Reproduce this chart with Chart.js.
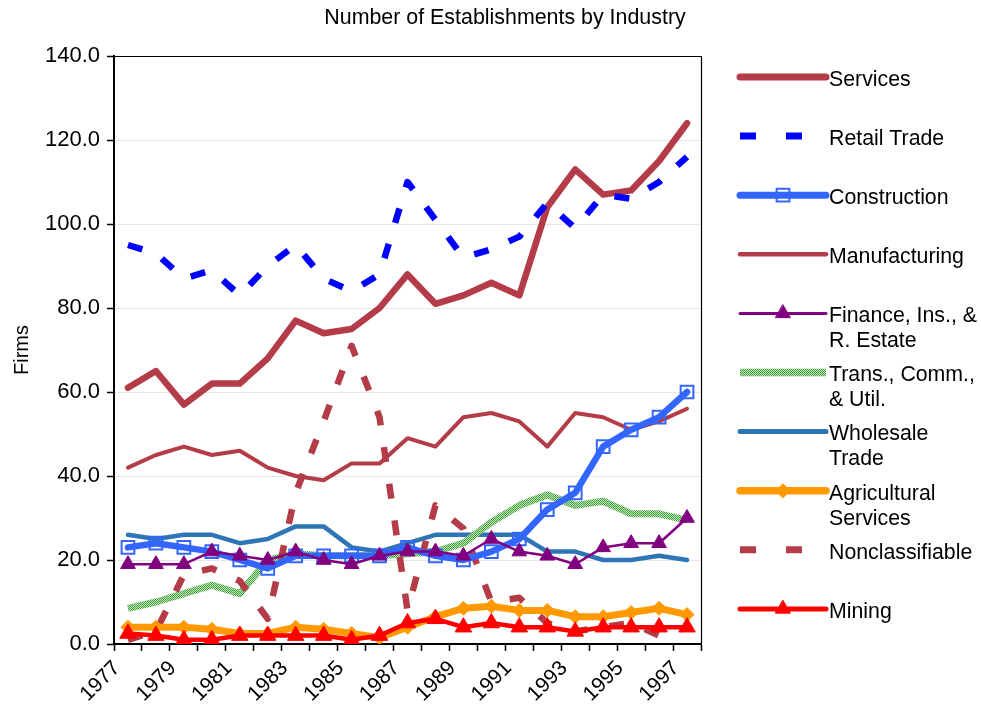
<!DOCTYPE html>
<html>
<head>
<meta charset="utf-8">
<script src="https://cdn.jsdelivr.net/npm/chart.js@4.4.1/dist/chart.umd.min.js"></script>
<style>
html,body{margin:0;padding:0;background:#ffffff;}
#wrap{width:981px;height:711px;position:relative;}
</style>
</head>
<body>
<div id="wrap"><canvas id="c" width="981" height="711"></canvas></div>
<script>
// ---- data ----
const years = ['1977','1978','1979','1980','1981','1982','1983','1984','1985','1986','1987',
               '1988','1989','1990','1991','1992','1993','1994','1995','1996','1997'];
const services      = [61, 65, 57, 62, 62, 68, 77, 74, 75, 80, 88, 81, 83, 86, 83, 104, 113, 107, 108, 115, 124];
const retailTrade   = [95, 93, 87, 89, 83, 90, 95, 87, 84, 88, 110, 101, 92, 94, 97, 105, 99, 107, 106, 110, 116];
const construction  = [23, 24, 23, 22, 20, 18, 21, 21, 21, 21, 23, 21, 20, 22, 25, 32, 36, 47, 51, 54, 60];
const manufacturing = [42, 45, 47, 45, 46, 42, 40, 39, 43, 43, 49, 47, 54, 55, 53, 47, 55, 54, 51, 53, 56];
const financeInsRE  = [19, 19, 19, 22, 21, 20, 22, 20, 19, 21, 22, 22, 21, 25, 22, 21, 19, 23, 24, 24, 30];
const transCommUtil = [8.5, 10, 12, 14, 12, 20, 21.5, 21, 21, 21, 21.5, 22, 24, 29, 33, 35.5, 33, 34, 31, 31, 29.5];
const wholesale     = [26, 25, 26, 26, 24, 25, 28, 28, 23, 22, 24, 26, 26, 26, 26, 22, 22, 20, 20, 21, 20];
const agricultural  = [4, 4, 4, 3.5, 2.5, 2.5, 4, 3.5, 2.5, 1.5, 4, 6.5, 8.5, 9, 8, 8, 6.5, 6.5, 7.5, 8.5, 7];
const nonclass      = [1, 3, 16.5, 18, 15, 6, 36, 53, 71, 54, 8, 33, 27.5, 10, 11, 5, 3, 4, 5, 2, 4];
const mining        = [2.5, 2, 1, 1, 2, 2, 2, 2, 1, 2, 5, 6, 4, 5, 4, 4, 3, 4, 4, 4, 4];
const yTicks        = [0, 20, 40, 60, 80, 100, 120, 140];
const seriesNames   = ['Services','Retail Trade','Construction','Manufacturing','Finance, Ins., & R. Estate',
                       'Trans., Comm., & Util.','Wholesale Trade','Agricultural Services','Nonclassifiable','Mining'];
const legendLines   = [['Services'],['Retail Trade'],['Construction'],['Manufacturing'],['Finance, Ins., &','R. Estate'],
                       ['Trans., Comm.,','& Util.'],['Wholesale','Trade'],['Agricultural','Services'],['Nonclassifiable'],['Mining']];
const chartTitle = 'Number of Establishments by Industry';
const yTitle = 'Firms';

// ---- styles ----
const FONT = "'Liberation Sans', Arial, sans-serif";
const RED = '#B33C48';
const canvas = document.getElementById('c');
const ctx = canvas.getContext('2d');
const pc = document.createElement('canvas');
pc.width = 2; pc.height = 2;
const pg = pc.getContext('2d');
pg.fillStyle = '#c8ebbc'; pg.fillRect(0,0,2,2);
pg.fillStyle = '#3d9d3d'; pg.fillRect(0,0,1,1); pg.fillRect(1,1,1,1);
const GREEN_PATTERN = ctx.createPattern(pc, 'repeat');

const styles = [
  {color: RED,       width: 6.5, order: 9},
  {color: '#0000FF', width: 6.5, order: 5, dash: [15, 22], legendDash: [16, 30], cap: 'butt'},
  {color: '#3366FF', width: 6.5, order: 3, marker: 'rect', radius: 9, mfill: 'rgba(255,255,255,0)', mborder: 2},
  {color: RED,       width: 4,   order: 8},
  {color: '#800080', width: 2.5, order: 2, marker: 'triangle', radius: 8.5, mfill: '#800080', mborder: 1},
  {color: GREEN_PATTERN, width: 7, order: 6, cap: 'butt'},
  {color: '#2E75B6', width: 4.5, order: 7},
  {color: '#FF9900', width: 7,   order: 1, marker: 'rectRot', radius: 7, mfill: '#FF9900', mborder: 1},
  {color: RED,       width: 6.5, order: 4, dash: [15, 22], legendDash: [16, 30], cap: 'butt'},
  {color: '#FF0000', width: 4.5, order: 0, marker: 'triangle', radius: 9.5, mfill: '#FF0000', mborder: 1}
];
const seriesData = [services, retailTrade, construction, manufacturing, financeInsRE,
                    transCommUtil, wholesale, agricultural, nonclass, mining];

const datasets = seriesData.map((d, i) => {
  const s = styles[i];
  return {
    label: seriesNames[i],
    data: d,
    borderColor: s.color,
    backgroundColor: s.mfill || s.color,
    borderWidth: s.width,
    borderDash: s.dash || [],
    borderCapStyle: s.cap || 'round',
    borderJoinStyle: 'round',
    tension: 0,
    fill: false,
    order: s.order,
    pointStyle: s.marker || 'circle',
    pointRadius: s.marker ? s.radius : 0,
    pointHoverRadius: s.marker ? s.radius : 0,
    pointBorderColor: s.marker ? (s.marker === 'rect' ? s.color : s.mfill) : s.color,
    pointBackgroundColor: s.mfill || s.color,
    pointBorderWidth: s.mborder || 0
  };
});

// ---- plugins ----
const framePlugin = {
  id: 'frame',
  afterDatasetsDraw(chart) {
    const a = chart.chartArea, c = chart.ctx;
    c.save();
    c.strokeStyle = '#000'; c.lineWidth = 1.2;
    c.beginPath();
    c.moveTo(a.left, a.top + 0.5); c.lineTo(a.right + 0.5, a.top + 0.5); c.lineTo(a.right + 0.5, a.bottom);
    c.stroke();
    c.restore();
  }
};
const titlePlugin = {
  id: 'topTitle',
  afterDraw(chart) {
    const c = chart.ctx;
    c.save();
    c.fillStyle = '#000';
    c.font = '21.4px ' + FONT;
    c.textAlign = 'center'; c.textBaseline = 'middle';
    c.fillText(chartTitle, 505, 18);
    c.restore();
  }
};
const legendPlugin = {
  id: 'sideLegend',
  afterDraw(chart) {
    const c = chart.ctx;
    const x0 = 740, x1 = 826, xm = 783, tx = 829, y0 = 77, step = 59.1;
    c.save();
    styles.forEach((s, i) => {
      const y = y0 + i * step;
      c.beginPath();
      c.strokeStyle = s.color;
      c.lineWidth = s.width + 0.5;
      c.lineCap = s.legendDash ? 'butt' : (s.cap === 'butt' ? 'butt' : 'round');
      c.setLineDash(s.legendDash || []);
      c.moveTo(x0, y); c.lineTo(x1, y);
      c.stroke();
      c.setLineDash([]);
      if (s.marker) {
        c.fillStyle = s.mfill;
        c.strokeStyle = s.marker === 'rect' ? s.color : s.mfill;
        c.lineWidth = s.mborder;
        let r = s.radius;
        if (s.marker === 'triangle') r = 8.5;
        if (s.marker === 'rectRot') r = 7;
        if (s.marker === 'rect') r = 9;
        Chart.helpers.drawPoint(c, {pointStyle: s.marker, radius: r, rotation: 0, borderWidth: s.mborder}, xm, y);
      }
      c.fillStyle = '#000';
      c.font = '21.3px ' + FONT;
      c.textAlign = 'left'; c.textBaseline = 'middle';
      legendLines[i].forEach((t, k) => c.fillText(t, tx, y + 3 + k * 25));
    });
    c.restore();
  }
};

Chart.defaults.font.family = FONT;
new Chart(ctx, {
  type: 'line',
  data: { labels: years, datasets },
  options: {
    responsive: false,
    animation: false,
    devicePixelRatio: 1,
    layout: { padding: { top: 56, right: 280, bottom: 0, left: 0 } },
    plugins: { legend: { display: false }, tooltip: { enabled: false }, title: { display: false } },
    scales: {
      x: {
        type: 'category',
        offset: true,
        grid: { offset: true, drawOnChartArea: false, drawTicks: true, tickLength: 7, tickColor: '#000', tickWidth: 1.5 },
        border: { display: true, color: '#000', width: 2 },
        ticks: {
          autoSkip: false, maxRotation: 45, minRotation: 45, color: '#000', padding: 5, labelOffset: -11,
          font: { size: 21 },
          callback: (v, i) => (i % 2 === 0 ? years[i] : '')
        },
        afterFit: s => { s.height = 67; }
      },
      y: {
        min: yTicks[0], max: yTicks[yTicks.length - 1],
        afterBuildTicks: s => { s.ticks = yTicks.map(v => ({ value: v })); },
        ticks: { color: '#000', padding: 7, font: { size: 22 }, callback: v => Number(v).toFixed(1) },
        grid: { color: '#e8e8e8', lineWidth: 1, tickLength: 7, tickColor: '#000', tickWidth: 1.5 },
        border: { display: true, color: '#000', width: 2 },
        title: { display: true, text: yTitle, color: '#000', font: { size: 20 }, padding: { top: 10, bottom: 0 } },
        afterFit: s => { s.width = 114; }
      }
    }
  },
  plugins: [framePlugin, titlePlugin, legendPlugin]
});
</script>
</body>
</html>
